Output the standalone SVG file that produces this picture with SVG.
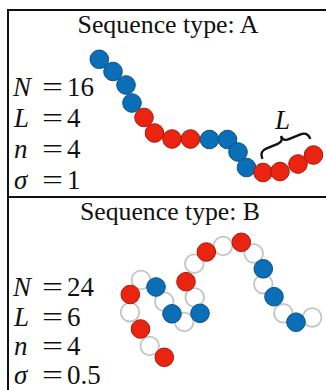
<svg xmlns="http://www.w3.org/2000/svg" width="326" height="390" viewBox="0 0 326 390">
<style>
.t{font-family:"Liberation Serif","Times New Roman",serif;font-size:25px;fill:#111}
.m{font-family:"Liberation Serif","Times New Roman",serif;font-size:27px;fill:#111}
.i{font-style:italic}
.b{fill:#0b6fb8;stroke:#0a4f86;stroke-width:1}
.r{fill:#ea2411;stroke:#a9190b;stroke-width:1}
.w{fill:#fff;stroke:#c4c4c4;stroke-width:1.8}
.f{fill:none;stroke:#111;stroke-width:2}
</style>
<rect width="326" height="390" fill="#fff"/>
<g id="frame">
<rect class="f" x="8" y="10" width="340" height="400"/>
<line class="f" x1="8" y1="197" x2="330" y2="197"/>
</g>
<g id="panelA">
<text class="t" x="168" y="33" text-anchor="middle" textLength="181" lengthAdjust="spacingAndGlyphs">Sequence type: A</text>
<g id="paramsA">
<text class="m i" x="13" y="96">N</text><text class="m" x="42" y="96" textLength="21" lengthAdjust="spacingAndGlyphs">=</text><text class="m" x="67" y="96">16</text>
<text class="m i" x="14" y="127">L</text><text class="m" x="42" y="127" textLength="21" lengthAdjust="spacingAndGlyphs">=</text><text class="m" x="67" y="127">4</text>
<text class="m i" x="14" y="158">n</text><text class="m" x="42" y="158" textLength="21" lengthAdjust="spacingAndGlyphs">=</text><text class="m" x="67" y="158">4</text>
<text class="m i" x="14" y="189">σ</text><text class="m" x="42" y="189" textLength="21" lengthAdjust="spacingAndGlyphs">=</text><text class="m" x="67" y="189">1</text>
</g>
<g id="chainA">
<circle class="b" cx="99.3" cy="59.3" r="9.3"/>
<circle class="b" cx="113" cy="71.5" r="9.3"/>
<circle class="b" cx="126" cy="85" r="9.3"/>
<circle class="b" cx="132" cy="103" r="9.3"/>
<circle class="r" cx="144" cy="117.5" r="9.3"/>
<circle class="r" cx="154.5" cy="133" r="9.3"/>
<circle class="r" cx="172" cy="139" r="9.3"/>
<circle class="r" cx="190.5" cy="139" r="9.3"/>
<circle class="b" cx="209.5" cy="139.5" r="9.3"/>
<circle class="b" cx="227.5" cy="139.5" r="9.3"/>
<circle class="b" cx="238" cy="152" r="9.3"/>
<circle class="b" cx="246.5" cy="167.5" r="9.3"/>
<circle class="r" cx="263" cy="172.5" r="9.3"/>
<circle class="r" cx="280" cy="171.5" r="9.3"/>
<circle class="r" cx="298" cy="164" r="9.3"/>
<circle class="r" cx="313.5" cy="155" r="9.3"/>
</g>
<g id="brace">
<path d="M-26,8 C-26,1.5 -23,0 -18,0 L-6,0 C-2,0 0,-2 0,-6 C0,-2 2,0 6,0 L18,0 C23,0 26,1.5 26,8" fill="none" stroke="#111" stroke-width="2.4" transform="translate(283.3,141.5) rotate(-22.6)"/>
<text class="m i" x="275" y="129">L</text>
</g>
</g>
<g id="panelB">
<text class="t" x="170" y="220" text-anchor="middle" textLength="180" lengthAdjust="spacingAndGlyphs">Sequence type: B</text>
<g id="paramsB">
<text class="m i" x="13" y="296">N</text><text class="m" x="42" y="296" textLength="21" lengthAdjust="spacingAndGlyphs">=</text><text class="m" x="67" y="296">24</text>
<text class="m i" x="14" y="325.5">L</text><text class="m" x="42" y="325.5" textLength="21" lengthAdjust="spacingAndGlyphs">=</text><text class="m" x="67" y="325.5">6</text>
<text class="m i" x="14" y="355">n</text><text class="m" x="42" y="355" textLength="21" lengthAdjust="spacingAndGlyphs">=</text><text class="m" x="67" y="355">4</text>
<text class="m i" x="14" y="383.5">σ</text><text class="m" x="42" y="383.5" textLength="21" lengthAdjust="spacingAndGlyphs">=</text><text class="m" x="67" y="383.5">0.5</text>
</g>
<g id="chainB">
<circle class="w" cx="149.7" cy="346" r="9.3"/>
<circle class="w" cx="130" cy="312.2" r="9.3"/>
<circle class="w" cx="141" cy="280" r="9.3"/>
<circle class="w" cx="164.3" cy="301.7" r="9.3"/>
<circle class="w" cx="184.2" cy="322" r="9.3"/>
<circle class="w" cx="194.7" cy="297.5" r="9.3"/>
<circle class="w" cx="194.3" cy="263.7" r="9.3"/>
<circle class="w" cx="223" cy="246" r="9.3"/>
<circle class="w" cx="253.7" cy="253.5" r="9.3"/>
<circle class="w" cx="263.3" cy="284.2" r="9.3"/>
<circle class="w" cx="283.3" cy="313.3" r="9.3"/>
<circle class="w" cx="312.2" cy="317.5" r="9.3"/>
<circle class="r" cx="164.3" cy="357.3" r="9.3"/>
<circle class="r" cx="140.5" cy="329" r="9.3"/>
<circle class="r" cx="130.3" cy="294.5" r="9.3"/>
<circle class="b" cx="156" cy="287" r="9.3"/>
<circle class="b" cx="172" cy="313.8" r="9.3"/>
<circle class="b" cx="200" cy="313.3" r="9.3"/>
<circle class="r" cx="186" cy="281.7" r="9.3"/>
<circle class="r" cx="206.3" cy="252" r="9.3"/>
<circle class="r" cx="241.3" cy="242.3" r="9.3"/>
<circle class="b" cx="263.3" cy="268.8" r="9.3"/>
<circle class="b" cx="274" cy="296.7" r="9.3"/>
<circle class="b" cx="296" cy="322.2" r="9.3"/>
</g>
</g>
</svg>
